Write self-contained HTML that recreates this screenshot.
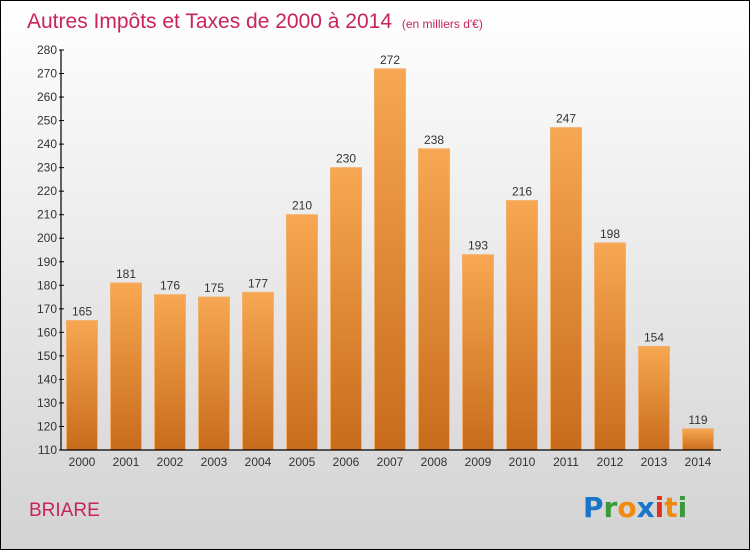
<!DOCTYPE html>
<html><head><meta charset="utf-8"><style>
body{margin:0;}
#c{width:748px;height:548px;border:1px solid #000;background:linear-gradient(#ffffff,#f6f6f6 20%,#d3d3d3);position:relative;overflow:hidden;font-family:"Liberation Sans",sans-serif;}
</style></head><body>
<div id="c">
<svg width="748" height="548" xmlns="http://www.w3.org/2000/svg" id="svg">
<defs><linearGradient id="bg" x1="0" y1="0" x2="0" y2="1"><stop offset="0" stop-color="#f7a752"/><stop offset="1" stop-color="#c86c1c"/></linearGradient></defs>
<text x="26" y="27" font-size="21" fill="#c8245a">Autres Impôts et Taxes de 2000 à 2014 <tspan font-size="12" dx="4">(en milliers d'€)</tspan></text>
<text x="28" y="515" font-size="19" fill="#c8245a">BRIARE</text>
<g font-size="28" font-weight="bold" font-family="'DejaVu Sans',sans-serif">
<text x="582" y="516"><tspan fill="#1a74c8">P</tspan><tspan fill="#3a9a3a">r</tspan><tspan fill="#f08a10">o</tspan><tspan fill="#1a74c8">x</tspan><tspan fill="#e03020">i</tspan><tspan fill="#f08a10">t</tspan><tspan fill="#3a9a3a">i</tspan></text>
</g>
<g id="plot"></g>
</svg>
</div>
<script>
const categories=["2000","2001","2002","2003","2004","2005","2006","2007","2008","2009","2010","2011","2012","2013","2014"];
const values=[165,181,176,175,177,210,230,272,238,193,216,247,198,154,119];
const yTicks=[110,120,130,140,150,160,170,180,190,200,210,220,230,240,250,260,270,280];
const yMin=110,yMax=280;
const y0=449,y1=49,xL=60,xR=720;
const NS="http://www.w3.org/2000/svg";
const g=document.getElementById('plot');
function y(v){return y0-(v-yMin)/(yMax-yMin)*(y0-y1);}
function xc(i){return 81+i*(697-81)/(categories.length-1);}
function el(t,a){const e=document.createElementNS(NS,t);for(const k in a)e.setAttribute(k,a[k]);g.appendChild(e);return e;}
categories.forEach((c,i)=>{
 const v=values[i];
 const r=el('rect',{x:xc(i)-15.5,y:y(v),width:31,height:y0-y(v),fill:'url(#bg)',stroke:'#f4b06a','stroke-width':1});
 
 
 const t=el('text',{x:xc(i),y:y(v)-5,'text-anchor':'middle','font-size':12,fill:'#333'});
 t.textContent=v;
 
 
 const xl=el('text',{x:xc(i),y:y0+16,'text-anchor':'middle','font-size':12,fill:'#333'});
 xl.textContent=c;
 
 
});
const ya=el('line',{x1:xL,y1:y1,x2:xL,y2:y0,stroke:'#000','stroke-width':1.2});


const xa=el('line',{x1:xL,y1:y0,x2:xR,y2:y0,stroke:'#000','stroke-width':1.2});


yTicks.forEach(v=>{
 const tk=el('line',{x1:xL-2,y1:y(v),x2:xL+3,y2:y(v),stroke:'#000'});
 
 
 const t=el('text',{x:xL-4,y:y(v)+4,'text-anchor':'end','font-size':12,fill:'#333'});
 t.textContent=v;
 
 
});
</script>
</body></html>
